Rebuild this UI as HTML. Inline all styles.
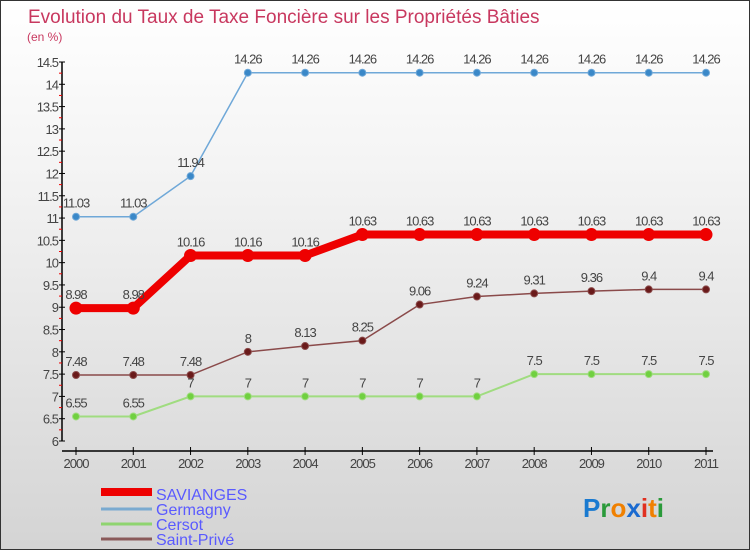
<!DOCTYPE html>
<html><head><meta charset="utf-8"><style>
body{margin:0}
#c{width:748px;height:548px;border:1px solid #333;background:linear-gradient(#fff,#f4f4f4 30%,#d4d4d4);position:relative;font-family:"Liberation Sans",sans-serif;overflow:hidden}
</style></head><body>
<div id="c">
<svg id="s" width="748" height="548" xmlns="http://www.w3.org/2000/svg">
<text x="27" y="22" font-size="19" fill="#c8385f">Evolution du Taux de Taxe Foncière sur les Propriétés Bâties</text>
<text x="26" y="40" font-size="12" fill="#c8385f">(en %)</text>
<g id="axes"></g><g id="series"></g>
<g>
<rect x="100" y="487" width="51" height="8" fill="#e00"/>
<text x="155" y="499" font-size="16" fill="#5a5aff">SAVIANGES</text>
<line x1="100" y1="508" x2="151" y2="508" stroke="#7aaad0" stroke-width="3"/>
<text x="155" y="514" font-size="16" fill="#5a5aff">Germagny</text>
<line x1="100" y1="523" x2="151" y2="523" stroke="#8fd470" stroke-width="3"/>
<text x="155" y="529" font-size="16" fill="#5a5aff">Cersot</text>
<line x1="100" y1="538" x2="151" y2="538" stroke="#8a5a5a" stroke-width="3"/>
<text x="155" y="544" font-size="16" fill="#5a5aff">Saint-Privé</text>
</g>
<text x="582" y="516" font-size="26" font-weight="bold"><tspan fill="#1a7ad0">P</tspan><tspan fill="#2a9a3a">r</tspan><tspan fill="#f08000">o</tspan><tspan fill="#1a6ad0">x</tspan><tspan fill="#e03020">i</tspan><tspan fill="#f08000">t</tspan><tspan fill="#2a9a3a">i</tspan></text>
</svg></div>
<script>
const years=[2000,2001,2002,2003,2004,2005,2006,2007,2008,2009,2010,2011];
const yTicks=[6,6.5,7,7.5,8,8.5,9,9.5,10,10.5,11,11.5,12,12.5,13,13.5,14,14.5];
const savianges=[8.98,8.98,10.16,10.16,10.16,10.63,10.63,10.63,10.63,10.63,10.63,10.63];
const germagny=[11.03,11.03,11.94,14.26,14.26,14.26,14.26,14.26,14.26,14.26,14.26,14.26];
const cersot=[6.55,6.55,7,7,7,7,7,7,7.5,7.5,7.5,7.5];
const saintPrive=[7.48,7.48,7.48,8,8.13,8.25,9.06,9.24,9.31,9.36,9.4,9.4];
const NS="http://www.w3.org/2000/svg";
const X=i=>75+i*(630/11);
const Y=v=>440-(v-6)*(379/8.5);
function mk(t,a,p){const e=document.createElementNS(NS,t);for(const k in a)e.setAttribute(k,a[k]);p.appendChild(e);return e;}
const ax=document.getElementById('axes');
let yl=mk('line',{x1:61,y1:Y(14.5),x2:61,y2:Y(6),stroke:'#000','stroke-width':1.5},ax);


yTicks.forEach(v=>{
  mk('line',{x1:58,y1:Y(v),x2:64,y2:Y(v),stroke:'#000'},ax);
  mk('line',{x1:58,y1:Y(v+0.25),x2:61,y2:Y(v+0.25),stroke:v<14.5?'#e00':'none'},ax);
  const t=mk('text',{x:57,y:Y(v)+5,'font-size':13,'text-anchor':'end',fill:'#444','letter-spacing':'-1'},ax);
  t.textContent=String(v);
  
  
});
let xl=mk('line',{x1:61,y1:450,x2:712,y2:450,stroke:'#000','stroke-width':1.5},ax);


years.forEach((y,i)=>{
  mk('line',{x1:X(i),y1:446,x2:X(i),y2:454,stroke:'#000'},ax);
  const t=mk('text',{x:X(i),y:467,'font-size':13,'text-anchor':'middle',fill:'#444','letter-spacing':'-1'},ax);
  t.textContent=y;
  
  
});
const sg=document.getElementById('series');
function series(vals,name,color,dot,w,r){
  const g=mk('g',{},sg);
  
  
  mk('polyline',{points:vals.map((v,i)=>X(i)+','+Y(v)).join(' '),fill:'none',stroke:color,'stroke-width':w},g);
  vals.forEach((v,i)=>{
    const c=mk('circle',{cx:X(i),cy:Y(v),r:r,fill:dot,stroke:color,'stroke-width':1},g);
    
    
    const t=mk('text',{x:X(i),y:Y(v)-9,'font-size':13,'text-anchor':'middle',fill:'#444','letter-spacing':'-1'},g);
    t.textContent=String(v);
    
    
  });
}
series(germagny,'germagny','#6fa8d8','#3a88c8',1.5,3.5);
series(saintPrive,'saint-prive','#8a4a4a','#6a1a1a',1.5,3.5);
series(cersot,'cersot','#a0dc80','#70d040',2,3.5);
series(savianges,'savianges','#e00','#e00',8,6);
</script>
</body></html>
